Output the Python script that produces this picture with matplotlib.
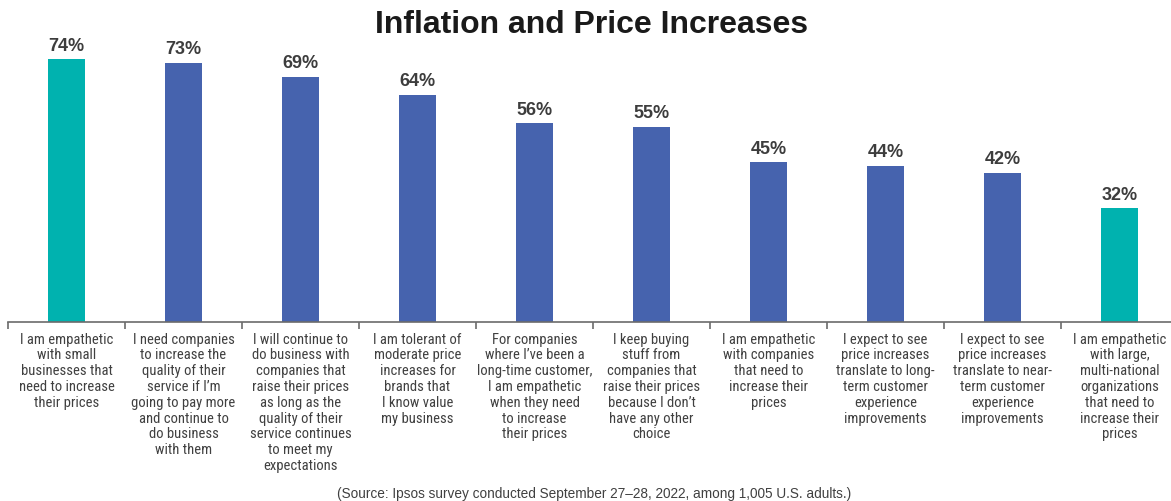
import matplotlib
matplotlib.use("Agg")
import matplotlib.pyplot as plt
from matplotlib import font_manager

categories = [
    "I am empathetic\nwith small\nbusinesses that\nneed to increase\ntheir prices",
    "I need companies\nto increase the\nquality of their\nservice if I\u2019m\ngoing to pay more\nand continue to\ndo business\nwith them",
    "I will continue to\ndo business with\ncompanies that\nraise their prices\nas long as the\nquality of their\nservice continues\nto meet my\nexpectations",
    "I am tolerant of\nmoderate price\nincreases for\nbrands that\nI know value\nmy business",
    "For companies\nwhere I\u2019ve been a\nlong-time customer,\nI am empathetic\nwhen they need\nto increase\ntheir prices",
    "I keep buying\nstuff from\ncompanies that\nraise their prices\nbecause I don\u2019t\nhave any other\nchoice",
    "I am empathetic\nwith companies\nthat need to\nincrease their\nprices",
    "I expect to see\nprice increases\ntranslate to long-\nterm customer\nexperience\nimprovements",
    "I expect to see\nprice increases\ntranslate to near-\nterm customer\nexperience\nimprovements",
    "I am empathetic\nwith large,\nmulti-national\norganizations\nthat need to\nincrease their\nprices",
]
values = [74, 73, 69, 64, 56, 55, 45, 44, 42, 32]
highlight = [True, False, False, False, False, False, False, False, False, True]

TEAL = "#00B2AF"
BLUE = "#4663AE"
colors = [TEAL if h else BLUE for h in highlight]

# pick a condensed face for the category labels when one is installed
label_font = None
label_stretch = "normal"
installed = font_manager.fontManager.ttflist
names = {f.name for f in installed}
for cand in ["Liberation Sans Narrow", "Roboto Condensed", "Open Sans Condensed",
             "Noto Sans Condensed", "DejaVu Sans Condensed", "Arial Narrow"]:
    if cand in names:
        label_font = cand
        break
if label_font is None:
    for f in installed:
        if isinstance(f.stretch, str) and f.stretch in ("condensed", "semi-condensed"):
            label_font = f.name
            label_stretch = f.stretch
            break
if label_font is None:
    label_font = "Liberation Sans"
    label_size = 9.3
else:
    label_size = 10.5

W, H = 1171, 502
fig = plt.figure(figsize=(W / 100, H / 100), dpi=100)

ax_bottom = (H - 323) / H
ax_height = 284 / H
ax = fig.add_axes([8 / W, ax_bottom, 1170 / W, ax_height])

x = list(range(len(values)))
bars = ax.bar(x, values, width=0.32, color=colors, zorder=2)
ax.set_xlim(-0.5, len(values) - 0.5)
ax.set_ylim(0, 80)

for rect, v in zip(bars, values):
    ax.annotate(f"{v}%", (rect.get_x() + rect.get_width() / 2, v),
                xytext=(0, 4), textcoords="offset points",
                ha="center", va="bottom", fontsize=13, fontweight="bold",
                color="#3d3d3d", family=["Liberation Sans", "DejaVu Sans"])

for s in ("top", "right", "left"):
    ax.spines[s].set_visible(False)
ax.spines["bottom"].set_color("#6b6b6b")
ax.spines["bottom"].set_linewidth(1.2)
ax.set_yticks([])

ax.set_xticks([i - 0.5 for i in range(len(values) + 1)])
ax.set_xticklabels([])
ax.tick_params(axis="x", direction="out", length=5, width=1.2, color="#6b6b6b")
ax.set_xticks(x, minor=True)
ax.set_xticklabels(categories, minor=True)
ax.tick_params(axis="x", which="minor", length=0, pad=7)
for lbl in ax.get_xticklabels(minor=True):
    lbl.set_fontsize(label_size)
    lbl.set_color("#404040")
    lbl.set_family([label_font, "DejaVu Sans"])
    lbl.set_stretch(label_stretch)
    lbl.set_linespacing(1.16)
    lbl.set_verticalalignment("top")

fig.text(592 / W, 1 - 25 / H, "Inflation and Price Increases", ha="center", va="center",
         fontsize=23, fontweight="bold", color="#1a1a1a",
         family=["Liberation Sans", "DejaVu Sans"])

fig.text(594 / W, 1 - 494 / H,
         "(Source: Ipsos survey conducted September 27\u201328, 2022, among 1,005 U.S. adults.)",
         ha="center", va="center", fontsize=9.8, color="#404040",
         family=["Liberation Sans", "DejaVu Sans"])

fig.savefig("out.png", dpi=100)
